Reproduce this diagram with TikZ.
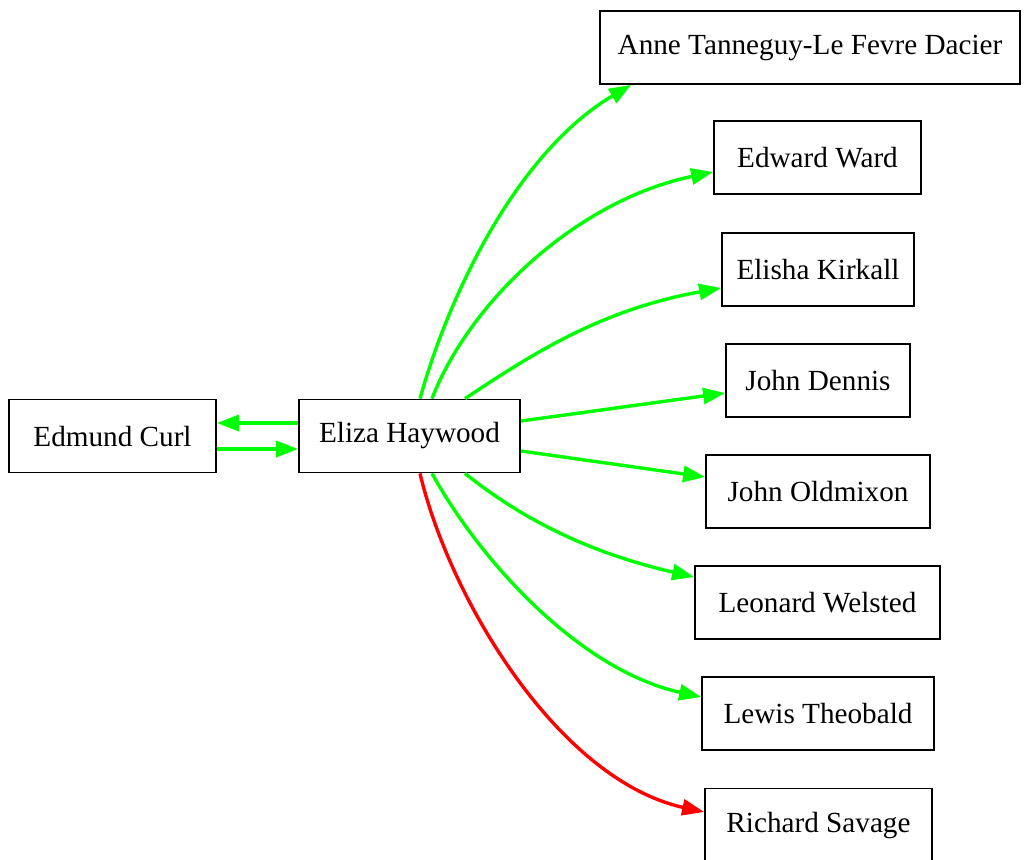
\documentclass[tikz,border=0pt]{standalone}
\usepackage{fontspec}
\setmainfont{Liberation Serif}
\usepackage{tikz}
\usepackage{xcolor}
\usetikzlibrary{arrows.meta}
\definecolor{linkgreen}{RGB}{0,255,0}
\definecolor{linkred}{RGB}{255,0,0}

\begin{document}
\begin{tikzpicture}[x=0.5pt, y=-0.5pt,
    person/.style={draw, line width=0.9pt, minimum height=36.5pt, inner sep=0pt,
        font=\fontsize{14.6pt}{17pt}\selectfont},
    link/.style={line width=1.7pt, linkgreen, -{Triangle[length=11pt,width=8pt]}},
    badlink/.style={link, linkred}]
    \useasboundingbox (0,0) rectangle (1027,859);

    % left pair
    \node[person, minimum width=103.5pt] (curl) at (112.5,436) {Edmund Curl};
    \node[person, minimum width=110.5pt] (hay) at (409.5,436) {Eliza Haywood};

    % right column
    \node[person, minimum width=210pt] (dacier) at (810,47.5) {Anne Tanneguy-Le Fevre Dacier};
    \node[person, minimum width=103.5pt] (ward) at (817.5,157.5) {Edward Ward};
    \node[person, minimum width=96pt] (kirkall) at (818,269.5) {Elisha Kirkall};
    \node[person, minimum width=92pt] (dennis) at (818,380.5) {John Dennis};
    \node[person, minimum width=112pt] (oldmixon) at (818,491.5) {John Oldmixon};
    \node[person, minimum width=122.5pt] (welsted) at (817.5,602.5) {Leonard Welsted};
    \node[person, minimum width=116pt] (theobald) at (818,713.5) {Lewis Theobald};
    \node[person, minimum width=113.5pt] (savage) at (818.5,825) {Richard Savage};

    % curl <-> haywood
    \draw[link] ([yshift=6.5pt]hay.west) -- ([yshift=6.5pt]curl.east);
    \draw[link] ([yshift=-6.5pt]curl.east) -- ([yshift=-6.5pt]hay.west);

    % haywood -> upper names
    \draw[link] ([xshift=5.25pt]hay.north) .. controls +(30,-108) and +(-112,66) .. ([xshift=16pt]dacier.south west);
    \draw[link] ([xshift=11.25pt]hay.north) .. controls +(38,-98) and +(-135,28) .. ([yshift=-7.25pt]ward.west);
    \draw[link] ([xshift=27.75pt]hay.north) .. controls +(65,-43) and +(-122,22) .. ([yshift=-9.25pt]kirkall.west);
    \draw[link] ([yshift=7.5pt]hay.east) -- ([yshift=-6.25pt]dennis.west);

    % haywood -> lower names
    \draw[link] ([yshift=-7.5pt]hay.east) -- ([yshift=7.25pt]oldmixon.west);
    \draw[link] ([xshift=27.75pt]hay.south) .. controls +(65,52) and +(-95,-22) .. ([yshift=12.75pt]welsted.west);
    \draw[link] ([xshift=11.25pt]hay.south) .. controls +(48,87) and +(-122,-27) .. ([yshift=8.25pt]theobald.west);
    \draw[badlink] ([xshift=5.25pt]hay.south) .. controls +(30,127) and +(-145,-32) .. ([yshift=6.5pt]savage.west);
\end{tikzpicture}
\end{document}
